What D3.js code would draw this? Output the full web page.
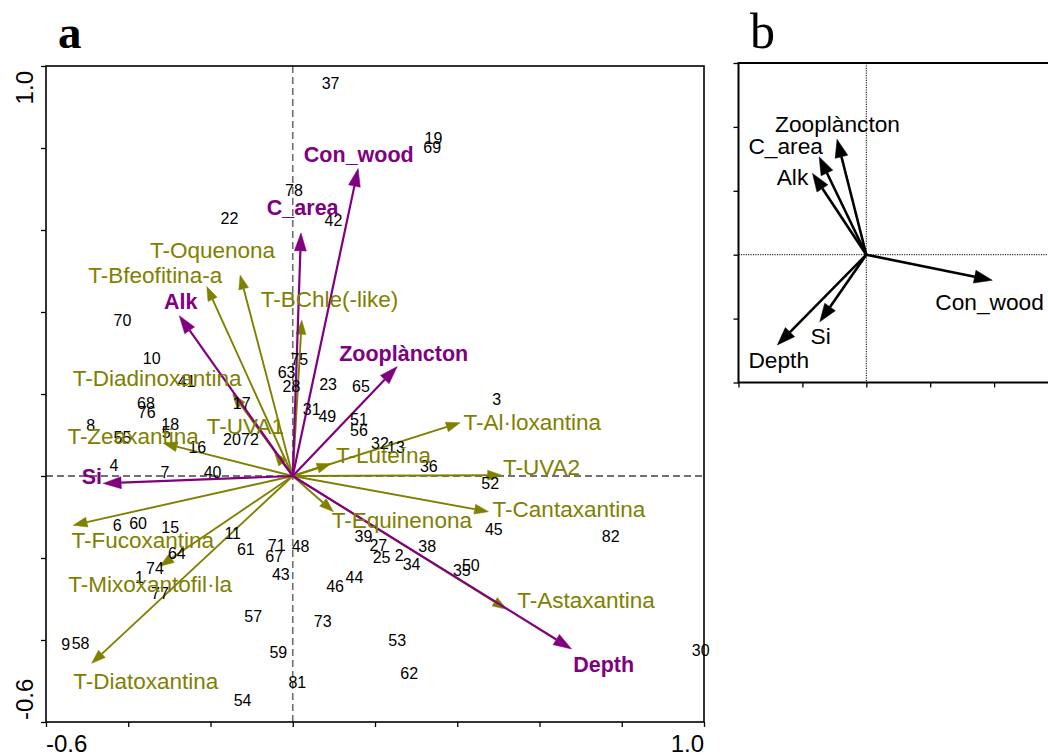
<!DOCTYPE html>
<html>
<head>
<meta charset="utf-8">
<script src="https://cdn.jsdelivr.net/npm/d3@7"></script>
<style>
  html, body { margin: 0; padding: 0; background: #fff; }
  svg { display: block; }
</style>
</head>
<body>
<svg id="chart" width="1048" height="756"></svg>
<script>
// ---------- Panel a: sample scores ----------
const sampleIds = ["37","19","69","78","22","42","70","10","41","75","63","28","23","65","68","76","17","31","49","8","55","18","5","16","20","72","51","56","3","32","13","36","52","4","7","40","6","60","15","11","61","71","67","48","64","74","1","77","43","46","44","57","73","59","9","58","81","54","39","27","25","2","38","34","35","50","45","82","53","62","30"];
const sampleX = [0.092,0.342,0.339,0.003,-0.154,0.099,-0.414,-0.343,-0.258,0.016,-0.015,-0.003,0.086,0.166,-0.357,-0.355,-0.124,0.046,0.084,-0.491,-0.414,-0.298,-0.308,-0.232,-0.148,-0.104,0.161,0.161,0.496,0.212,0.251,0.331,0.480,-0.435,-0.311,-0.195,-0.427,-0.376,-0.298,-0.146,-0.114,-0.039,-0.045,0.019,-0.282,-0.335,-0.373,-0.323,-0.029,0.103,0.150,-0.096,0.073,-0.035,-0.552,-0.516,0.011,-0.122,0.172,0.208,0.216,0.259,0.327,0.289,0.411,0.433,0.489,0.773,0.254,0.283,0.992];
const sampleY = [0.958,0.825,0.801,0.698,0.629,0.624,0.379,0.287,0.230,0.285,0.252,0.220,0.224,0.220,0.177,0.156,0.177,0.163,0.146,0.124,0.094,0.127,0.106,0.070,0.090,0.090,0.138,0.112,0.187,0.081,0.071,0.024,-0.018,0.027,0.008,0.008,-0.120,-0.115,-0.124,-0.140,-0.179,-0.168,-0.195,-0.171,-0.189,-0.225,-0.246,-0.285,-0.239,-0.268,-0.247,-0.341,-0.355,-0.431,-0.410,-0.408,-0.504,-0.548,-0.146,-0.168,-0.197,-0.193,-0.172,-0.215,-0.231,-0.217,-0.130,-0.146,-0.400,-0.481,-0.426];

// ---------- Panel a: species (pigment) vectors ----------
const speciesNames = ["T-Oquenona","T-Bfeofitina-a","T-BChle(-like)","T-Diadinoxantina","T-UVA1","T-Zeaxantina","T-Al·loxantina","T-Luteína","T-UVA2","T-Cantaxantina","T-Equinenona","T-Astaxantina","T-Fucoxantina","T-Mixoxantofil·la","T-Diatoxantina"];
const speciesX = [-0.128,-0.209,0.022,-0.146,-0.045,-0.315,0.407,0.093,0.508,0.476,0.099,0.520,-0.534,-0.323,-0.489];
const speciesY = [0.490,0.462,0.380,0.200,0.059,0.080,0.130,0.030,0.002,-0.087,-0.087,-0.325,-0.120,-0.220,-0.457];
const speciesLabelX = [-0.347,-0.497,-0.078,-0.535,-0.209,-0.548,0.415,0.105,0.511,0.486,0.095,0.546,-0.538,-0.546,-0.534];
const speciesLabelY = [0.532,0.471,0.412,0.220,0.102,0.078,0.112,0.032,0.002,-0.100,-0.127,-0.322,-0.176,-0.283,-0.520];

// ---------- Panel a: environmental vectors ----------
const envNames = ["Con_wood","C_area","Alk","Zooplàncton","Si","Depth"];
const envX = [0.159,0.020,-0.276,0.254,-0.461,0.678];
const envY = [0.750,0.593,0.391,0.267,-0.018,-0.422];
const envLabelX = [0.027,-0.063,-0.313,0.113,-0.513,0.682];
const envLabelY = [0.766,0.637,0.407,0.280,-0.020,-0.478];

// ---------- Panel b: environmental vectors ----------
const envBNames = ["Zooplàncton","C_area","Alk","Con_wood","Si","Depth"];
const envBX = [-0.229,-0.369,-0.421,0.986,-0.364,-0.696];
const envBY = [0.903,0.766,0.636,-0.200,-0.525,-0.706];
const envBLabelX = [-0.714,-0.922,-0.701,0.540,-0.436,-0.922];
const envBLabelY = [0.960,0.788,0.544,-0.434,-0.699,-0.886];

// ---------- Axis tick labels ----------
const axisATicks = [-0.6,-0.4,-0.2,0.0,0.2,0.4,0.6,0.8,1.0];
const axisAEndLabels = ["-0.6","1.0"];
const axisBTicks = [-1,-0.5,0,0.5,1,1.5];

const svg = d3.select("#chart");
const FONT = "Arial, 'Liberation Sans', Helvetica, sans-serif";
const OLIVE = "#808000";
const PURPLE = "#800080";

function drawArrow(g, x0, y0, x1, y1, color, width, headLen, headW) {
  const dx = x1 - x0, dy = y1 - y0;
  const L = Math.hypot(dx, dy);
  const ux = dx / L, uy = dy / L;
  const bx = x1 - ux * headLen, by = y1 - uy * headLen;
  g.append("line").attr("x1", x0).attr("y1", y0).attr("x2", bx).attr("y2", by)
    .attr("stroke", color).attr("stroke-width", width);
  const px = -uy, py = ux;
  g.append("path")
    .attr("d", `M${x1},${y1}L${bx + px * headW / 2},${by + py * headW / 2}L${bx - px * headW / 2},${by - py * headW / 2}Z`)
    .attr("fill", color).attr("stroke", color).attr("stroke-width", 0.5);
}

// ================= Panel a =================
const xA = d3.scaleLinear().domain([-0.6, 1.0]).range([46, 704]);
const yA = d3.scaleLinear().domain([-0.6, 1.0]).range([722, 66]);
const gA = svg.append("g");

// panel letter
svg.append("text").attr("x", 58).attr("y", 48).text("a")
  .attr("font-family", "'Liberation Serif', 'DejaVu Serif', serif")
  .attr("font-weight", "bold").attr("font-size", 47);

// zero dashed lines
gA.append("line").attr("x1", xA(0)).attr("x2", xA(0)).attr("y1", yA(1.0)).attr("y2", yA(-0.6))
  .attr("stroke", "#6e6e6e").attr("stroke-width", 1.6).attr("stroke-dasharray", "7,4");
gA.append("line").attr("x1", xA(-0.6)).attr("x2", xA(1.0)).attr("y1", yA(0)).attr("y2", yA(0))
  .attr("stroke", "#444").attr("stroke-width", 1.4).attr("stroke-dasharray", "7,4");

// axes with ticks
const axBottom = gA.append("g").attr("transform", `translate(0,${yA(-0.6)})`)
  .call(d3.axisBottom(xA).tickValues(axisATicks).tickFormat("").tickSizeInner(5).tickSizeOuter(0));
const axLeft = gA.append("g").attr("transform", `translate(${xA(-0.6)},0)`)
  .call(d3.axisLeft(yA).tickValues(axisATicks).tickFormat("").tickSizeInner(5).tickSizeOuter(0));
[axBottom, axLeft].forEach(a => { a.selectAll("line").attr("stroke", "#000").attr("stroke-width", 1.3); a.select(".domain").remove(); });

// frame
gA.append("rect").attr("x", xA(-0.6)).attr("y", yA(1.0))
  .attr("width", xA(1.0) - xA(-0.6)).attr("height", yA(-0.6) - yA(1.0))
  .attr("fill", "none").attr("stroke", "#000").attr("stroke-width", 1.6);

// axis end labels
gA.append("text").attr("x", xA(-0.6)).attr("y", 752).text(axisAEndLabels[0])
  .attr("font-family", FONT).attr("font-size", 24).attr("text-anchor", "start");
gA.append("text").attr("x", xA(1.0)).attr("y", 752).text(axisAEndLabels[1])
  .attr("font-family", FONT).attr("font-size", 24).attr("text-anchor", "end");
gA.append("text").attr("transform", `translate(33,${yA(1.0) + 5}) rotate(-90)`).text(axisAEndLabels[1])
  .attr("font-family", FONT).attr("font-size", 24).attr("text-anchor", "end");
gA.append("text").attr("transform", `translate(33,${yA(-0.6) - 2}) rotate(-90)`).text(axisAEndLabels[0])
  .attr("font-family", FONT).attr("font-size", 24).attr("text-anchor", "start");

// species arrows
const ox = xA(0), oy = yA(0);
speciesNames.forEach((n, i) => {
  drawArrow(gA, ox, oy, xA(speciesX[i]), yA(speciesY[i]), OLIVE, 1.9, 14, 10);
});
// env arrows
envNames.forEach((n, i) => {
  drawArrow(gA, ox, oy, xA(envX[i]), yA(envY[i]), PURPLE, 2.2, 18, 12);
});

// sample numbers
gA.selectAll("text.sample").data(sampleIds).enter().append("text")
  .attr("class", "sample")
  .attr("x", (d, i) => xA(sampleX[i]))
  .attr("y", (d, i) => yA(sampleY[i]))
  .attr("dy", "0.36em")
  .attr("text-anchor", "middle")
  .attr("font-family", FONT).attr("font-size", 16).attr("fill", "#000")
  .text(d => d);

// species labels
gA.selectAll("text.sp").data(speciesNames).enter().append("text")
  .attr("class", "sp")
  .attr("x", (d, i) => xA(speciesLabelX[i]))
  .attr("y", (d, i) => yA(speciesLabelY[i]))
  .attr("font-family", FONT).attr("font-size", 22.5).attr("fill", OLIVE)
  .text(d => d);

// env labels
gA.selectAll("text.env").data(envNames).enter().append("text")
  .attr("class", "env")
  .attr("x", (d, i) => xA(envLabelX[i]))
  .attr("y", (d, i) => yA(envLabelY[i]))
  .attr("font-family", FONT).attr("font-size", 21.5).attr("font-weight", "bold").attr("fill", PURPLE)
  .text(d => d);

// ================= Panel b =================
const xB = d3.scaleLinear().domain([-1, 1.5]).range([738.5, 1058]);
const yB = d3.scaleLinear().domain([-1, 1.5]).range([382.5, 63]);
const gB = svg.append("g");

svg.append("text").attr("x", 750).attr("y", 48).text("b")
  .attr("font-family", "'Liberation Serif', 'DejaVu Serif', serif")
  .attr("font-size", 50);

gB.append("line").attr("x1", xB(0)).attr("x2", xB(0)).attr("y1", yB(1.5)).attr("y2", yB(-1))
  .attr("stroke", "#000").attr("stroke-width", 1).attr("stroke-dasharray", "1.2,1.2");
gB.append("line").attr("x1", xB(-1)).attr("x2", xB(1.5)).attr("y1", yB(0)).attr("y2", yB(0))
  .attr("stroke", "#000").attr("stroke-width", 1).attr("stroke-dasharray", "1.2,1.2");

const bBottom = gB.append("g").attr("transform", `translate(0,${yB(-1)})`)
  .call(d3.axisBottom(xB).tickValues(axisBTicks).tickFormat("").tickSizeInner(5).tickSizeOuter(0));
const bLeft = gB.append("g").attr("transform", `translate(${xB(-1)},0)`)
  .call(d3.axisLeft(yB).tickValues(axisBTicks).tickFormat("").tickSizeInner(5).tickSizeOuter(0));
[bBottom, bLeft].forEach(a => { a.selectAll("line").attr("stroke", "#000").attr("stroke-width", 1.3); a.select(".domain").remove(); });

gB.append("rect").attr("x", xB(-1)).attr("y", yB(1.5))
  .attr("width", xB(1.5) - xB(-1)).attr("height", yB(-1) - yB(1.5))
  .attr("fill", "none").attr("stroke", "#000").attr("stroke-width", 2);

const obx = xB(0), oby = yB(0);
envBNames.forEach((n, i) => {
  drawArrow(gB, obx, oby, xB(envBX[i]), yB(envBY[i]), "#000", 2.6, 18, 13);
});
gB.selectAll("text.envb").data(envBNames).enter().append("text")
  .attr("class", "envb")
  .attr("x", (d, i) => xB(envBLabelX[i]))
  .attr("y", (d, i) => yB(envBLabelY[i]))
  .attr("font-family", FONT).attr("font-size", 22.7).attr("fill", "#000")
  .text(d => d);
</script>
</body>
</html>
